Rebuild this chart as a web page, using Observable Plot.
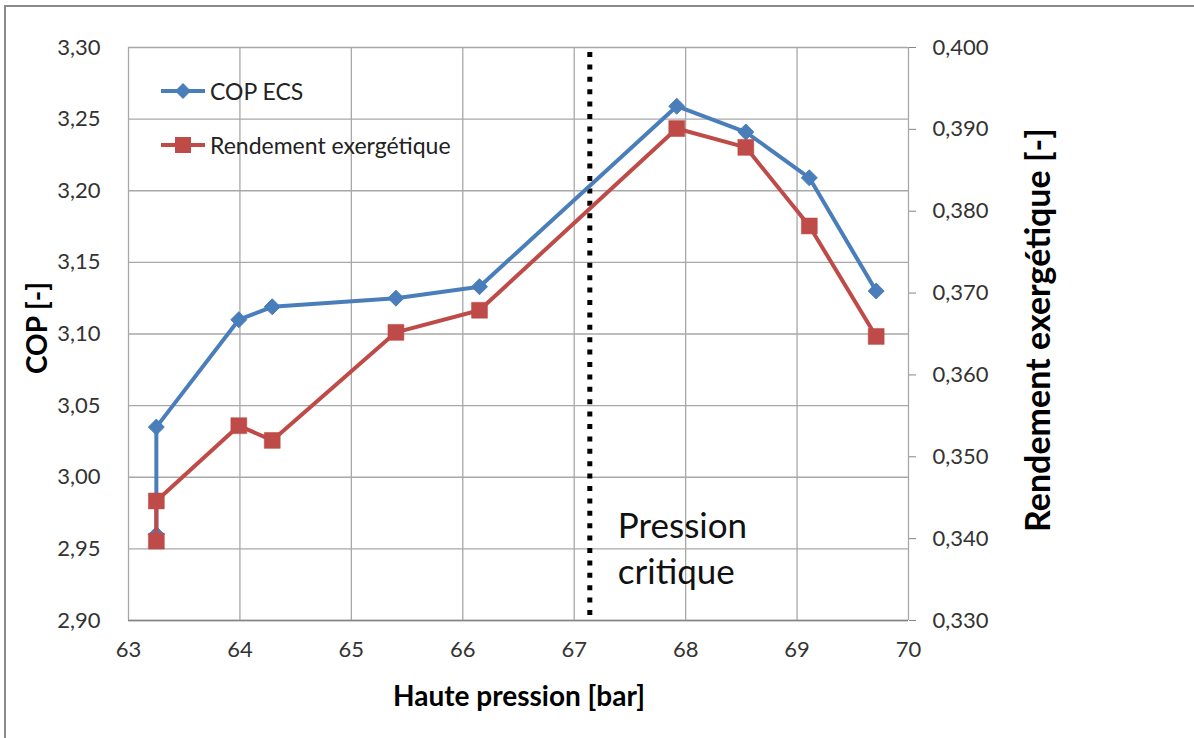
<!DOCTYPE html>
<html>
<head>
<meta charset="utf-8">
<script src="https://cdn.jsdelivr.net/npm/d3@7"></script>
<script src="https://cdn.jsdelivr.net/npm/@observablehq/plot@0.6"></script>
<style>
  html, body { margin: 0; padding: 0; background: #fff; }
  #wrap { position: relative; width: 1194px; height: 738px; overflow: hidden; background: #fff; font-family: Lato, "Open Sans", sans-serif; }
  #frame { position: absolute; left: 4px; top: 5px; width: 1220px; height: 760px; border: 2px solid #8a8a8a; box-sizing: border-box; }
  #chart { position: absolute; left: 0; top: 0; }
  .title { position: absolute; font-weight: bold; color: #000; white-space: nowrap; line-height: 1; }
  .legend { position: absolute; font-size: 23px; color: #222; white-space: nowrap; display: flex; align-items: center; }
  .legend svg { margin-right: 5px; }
</style>
</head>
<body>
<div id="wrap">
  <div id="frame"></div>
  <div id="chart"></div>
</div>
<script>
// ---- data ----
const pressure = [63.25, 63.25, 63.99, 64.29, 65.40, 66.15, 67.92, 68.54, 69.11, 69.71];
const cop      = [2.960, 3.035, 3.110, 3.119, 3.125, 3.133, 3.259, 3.241, 3.209, 3.130];
const rendement = [0.3397, 0.3446, 0.3538, 0.3520, 0.3652, 0.3679, 0.3901, 0.3878, 0.3782, 0.3647];
const seriesNames = ["COP ECS", "Rendement exergétique"];
const xTicks = [63, 64, 65, 66, 67, 68, 69, 70];
const copTicks = [2.90, 2.95, 3.00, 3.05, 3.10, 3.15, 3.20, 3.25, 3.30];
const rendTicks = [0.330, 0.340, 0.350, 0.360, 0.370, 0.380, 0.390, 0.400];
const pressionCritique = [67.14];
const annotation = ["Pression\ncritique"];
const xLabel = "Haute pression [bar]";
const yLabel = "COP [-]";
const y2Label = "Rendement exergétique [-]";

const blue = "#4a7ebb", red = "#be4b48";
const copDom = [2.90, 3.30], rendDom = [0.330, 0.400];
const toLeft = r => copDom[0] + (r - rendDom[0]) * (copDom[1] - copDom[0]) / (rendDom[1] - rendDom[0]);
const fromLeft = c => rendDom[0] + (c - copDom[0]) * (rendDom[1] - rendDom[0]) / (copDom[1] - copDom[0]);

const copData = pressure.map((p, i) => ({p, v: cop[i]}));
const rendData = pressure.map((p, i) => ({p, v: toLeft(rendement[i])}));
const comma = (v, d) => v.toFixed(d).replace(".", ",");

const plot = Plot.plot({
  width: 1194, height: 738,
  marginLeft: 128, marginRight: 286, marginTop: 47, marginBottom: 118,
  x: {domain: [63, 70]},
  y: {domain: copDom},
  style: {fontFamily: "Lato, 'Open Sans', sans-serif", background: "transparent", overflow: "visible"},
  marks: [
    Plot.gridX(xTicks, {stroke: "#a8a8a8", strokeOpacity: 1, strokeWidth: 1.3}),
    Plot.gridY(copTicks, {stroke: "#a8a8a8", strokeOpacity: 1, strokeWidth: 1.3}),
    Plot.ruleY([copDom[0]], {stroke: "#868686", strokeWidth: 1.6}),
    Plot.axisY({ticks: copTicks, tickSize: 0, tickPadding: 28, fontSize: 22, fill: "#333",
      tickFormat: d => comma(d, 2), label: null}),
    Plot.axisY({anchor: "right", ticks: rendTicks.map(toLeft), tickSize: 7, tickPadding: 17, fontSize: 22,
      stroke: "#868686", fill: "#333", tickFormat: d => comma(fromLeft(d), 3), label: null}),
    Plot.axisX({ticks: xTicks, tickSize: 0, tickPadding: 21, fontSize: 22, fill: "#333",
      tickFormat: d => String(d), label: null}),
    Plot.ruleX(pressionCritique, {stroke: "#000", strokeWidth: 5, strokeDasharray: "5,7.4", y1: copDom[1] - 0.0035, y2: copDom[0]}),
    Plot.text(annotation, {x: pressionCritique[0], y: copDom[0], text: d => d, textAnchor: "start", lineAnchor: "bottom",
      dx: 28, dy: -37, fontSize: 35, lineHeight: 1.29, fill: "#111"}),
    Plot.line(copData, {x: "p", y: "v", stroke: blue, strokeWidth: 4}),
    Plot.dot(copData, {x: "p", y: "v", symbol: "diamond2", r: 7.2, fill: blue, stroke: blue, strokeWidth: 1}),
    Plot.line(rendData, {x: "p", y: "v", stroke: red, strokeWidth: 4}),
    Plot.dot(rendData, {x: "p", y: "v", symbol: "square", r: 9, fill: red, stroke: red, strokeWidth: 0.5})
  ]
});
document.getElementById("chart").appendChild(plot);

const wrap = document.getElementById("wrap");
function addTitle(text, x, y, rot, size) {
  const d = document.createElement("div");
  d.className = "title";
  d.textContent = text;
  d.style.left = x + "px";
  d.style.top = y + "px";
  d.style.fontSize = size + "px";
  d.style.transform = `translate(-50%, -50%) rotate(${rot}deg)`;
  wrap.appendChild(d);
}
addTitle(xLabel, 519, 695, 0, 28);
addTitle(yLabel, 36, 328, -90, 28);
addTitle(y2Label, 1037, 330, -90, 34);

function addLegend(name, color, shape, top) {
  const d = document.createElement("div");
  d.className = "legend";
  d.style.left = "161px";
  d.style.top = (top - 15) + "px";
  d.style.height = "30px";
  const marker = shape === "diamond"
    ? `<polygon points="22,6 30,14 22,22 14,14" fill="${color}"/>`
    : `<rect x="14" y="6" width="16" height="16" fill="${color}"/>`;
  d.innerHTML = `<svg width="44" height="28"><line x1="0" y1="14" x2="44" y2="14" stroke="${color}" stroke-width="4"/>${marker}</svg><span>${name}</span>`;
  wrap.appendChild(d);
}
addLegend(seriesNames[0], blue, "diamond", 91);
addLegend(seriesNames[1], red, "square", 145);
</script>
</body>
</html>
